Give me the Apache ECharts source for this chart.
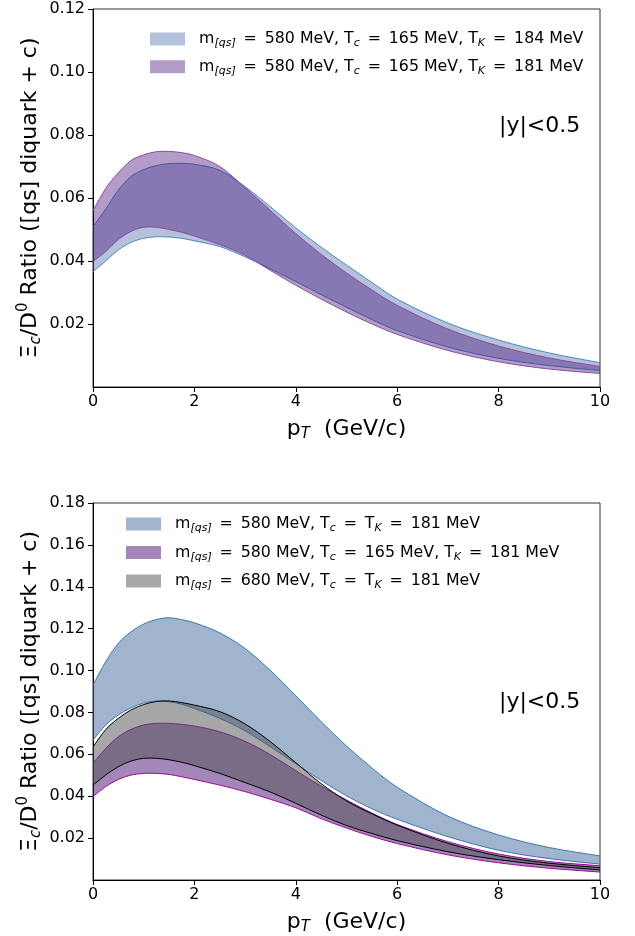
<!DOCTYPE html>
<html>
<head>
<meta charset="utf-8">
<script src="https://cdn.jsdelivr.net/npm/echarts@6/dist/echarts.min.js"></script>
<style>
html, body { margin: 0; padding: 0; background: #fff; }
#main { width: 635px; height: 936px; }
</style>
</head>
<body>
<div id="main"></div>
<script>
// pT grid (GeV/c)
var pT = [0, 0.25, 0.5, 0.75, 1, 1.25, 1.5, 1.75, 2, 2.5, 3, 3.5, 4, 4.5, 5, 5.5, 6, 7, 8, 9, 10];

// top panel: m=580, Tc=165, TK=184
var tk184Upper = [0.0509, 0.0565, 0.0625, 0.0668, 0.0690, 0.0703, 0.0709, 0.0710, 0.0707, 0.0688, 0.0636, 0.0572, 0.0505, 0.0444, 0.0387, 0.0332, 0.0279, 0.0203, 0.0149, 0.0108, 0.0077];
var tk184Lower = [0.0366, 0.0400, 0.0435, 0.0459, 0.0472, 0.0477, 0.0476, 0.0472, 0.0464, 0.0446, 0.0413, 0.0375, 0.0335, 0.0293, 0.0253, 0.0214, 0.0179, 0.0127, 0.0091, 0.0068, 0.0052];
// top panel: m=580, Tc=165, TK=181
var tk181Upper = [0.0560, 0.0630, 0.0680, 0.0719, 0.0737, 0.0747, 0.0748, 0.0744, 0.0735, 0.0700, 0.0633, 0.0560, 0.0487, 0.0421, 0.0362, 0.0308, 0.0259, 0.0184, 0.0130, 0.0092, 0.0065];
var tk181Lower = [0.0398, 0.0430, 0.0468, 0.0494, 0.0507, 0.0507, 0.0500, 0.0491, 0.0479, 0.0452, 0.0418, 0.0370, 0.0323, 0.0279, 0.0238, 0.0200, 0.0167, 0.0116, 0.0080, 0.0057, 0.0043];

// bottom panel: m=580, Tc=TK=181
var eqUpper = [0.0931, 0.1042, 0.1130, 0.1185, 0.1222, 0.1244, 0.1252, 0.1243, 0.1228, 0.1180, 0.1105, 0.1000, 0.0880, 0.0756, 0.0640, 0.0535, 0.0443, 0.0305, 0.0215, 0.0155, 0.0115];
var eqLower = [0.0668, 0.0740, 0.0788, 0.0822, 0.0845, 0.0855, 0.0851, 0.0839, 0.0819, 0.0772, 0.0712, 0.0636, 0.0555, 0.0475, 0.0402, 0.0340, 0.0290, 0.0207, 0.0142, 0.0102, 0.0076];
// bottom panel: m=580, Tc=165, TK=181
var neqUpper = [0.0557, 0.0628, 0.0684, 0.0719, 0.0740, 0.0748, 0.0748, 0.0743, 0.0735, 0.0708, 0.0662, 0.0598, 0.0522, 0.0448, 0.0382, 0.0320, 0.0265, 0.0183, 0.0124, 0.0088, 0.0068];
var neqLower = [0.0398, 0.0446, 0.0480, 0.0501, 0.0509, 0.0509, 0.0504, 0.0493, 0.0480, 0.0453, 0.0422, 0.0385, 0.0345, 0.0293, 0.0248, 0.0208, 0.0174, 0.0120, 0.0082, 0.0056, 0.0038];
// bottom panel: m=680, Tc=TK=181
var m680Upper = [0.0636, 0.0718, 0.0772, 0.0812, 0.0838, 0.0852, 0.0855, 0.0847, 0.0835, 0.0804, 0.0745, 0.0660, 0.0560, 0.0460, 0.0378, 0.0316, 0.0262, 0.0175, 0.0115, 0.0080, 0.0059];
var m680Lower = [0.0453, 0.0501, 0.0541, 0.0568, 0.0581, 0.0581, 0.0574, 0.0562, 0.0546, 0.0509, 0.0465, 0.0420, 0.0366, 0.0310, 0.0260, 0.0222, 0.0188, 0.0135, 0.0097, 0.0069, 0.0048];

var topTicks = [0.02, 0.04, 0.06, 0.08, 0.10, 0.12];
var botTicks = [0.02, 0.04, 0.06, 0.08, 0.10, 0.12, 0.14, 0.16, 0.18];

var topNames = [
    'm{s|[qs]}\u2002=\u2002580 MeV, T{s|c}\u2002=\u2002165 MeV, T{s|K}\u2002=\u2002184 MeV',
    'm{s|[qs]}\u2002=\u2002580 MeV, T{s|c}\u2002=\u2002165 MeV, T{s|K}\u2002=\u2002181 MeV'
];
var botNames = [
    'm{s|[qs]}\u2002=\u2002580 MeV, T{s|c}\u2002=\u2002T{s|K}\u2002=\u2002181 MeV',
    'm{s|[qs]}\u2002=\u2002580 MeV, T{s|c}\u2002=\u2002165 MeV, T{s|K}\u2002=\u2002181 MeV',
    'm{s|[qs]}\u2002=\u2002680 MeV, T{s|c}\u2002=\u2002T{s|K}\u2002=\u2002181 MeV'
];

var FONT = 'DejaVu Sans';
var myChart = echarts.init(document.getElementById('main'));

//平滑路径（像素坐标上的 Hermite 曲线）
function curvePath(pts, moveFirst) {
    var n = pts.length, d = '';
    var m = [];
    for (var i = 0; i < n; i++) {
        var a = pts[Math.max(i - 1, 0)], b = pts[Math.min(i + 1, n - 1)];
        m.push((b[1] - a[1]) / (b[0] - a[0]));
    }
    d += (moveFirst ? 'M' : 'L') + pts[0][0] + ',' + pts[0][1];
    for (var j = 0; j < n - 1; j++) {
        var h = (pts[j + 1][0] - pts[j][0]) / 3;
        d += 'C' + (pts[j][0] + h) + ',' + (pts[j][1] + m[j] * h) + ' ' +
            (pts[j + 1][0] - h) + ',' + (pts[j + 1][1] - m[j + 1] * h) + ' ' +
            pts[j + 1][0] + ',' + pts[j + 1][1];
    }
    return d;
}

//一个带状区域：下边线到上边线之间填充
function band(label, lower, upper, idx, fill, edge) {
    var rows = [];
    for (var i = 0; i < pT.length; i++) rows.push([pT[i], lower[i], upper[i]]);
    return {
        name: label, type: 'custom', xAxisIndex: idx, yAxisIndex: idx,
        data: rows, encode: { x: 0, y: [1, 2] }, silent: true, clip: true,
        itemStyle: { color: fill },
        renderItem: function (params, api) {
            if (params.dataIndex !== 0) return;
            var up = [], lo = [];
            for (var k = 0; k < rows.length; k++) {
                up.push(api.coord([api.value(0, k), api.value(2, k)]));
                lo.push(api.coord([api.value(0, k), api.value(1, k)]));
            }
            var lowPath = curvePath(lo, true);
            // 下边线反向接回去，组成闭合区域
            var back = curvePath(lo.map(function (p) { return [-p[0], p[1]]; }).reverse(), false)
                .replace(/(-?[\d.e]+),(-?[\d.e]+)/g, function (s, x, y) { return (-parseFloat(x)) + ',' + y; });
            var d = curvePath(up, true) + back + 'Z';
            return {
                type: 'group',
                children: [
                    { type: 'path', shape: { pathData: d }, style: { fill: fill, stroke: null } },
                    { type: 'path', shape: { pathData: curvePath(up, true) }, style: { fill: null, stroke: edge, lineWidth: 1 } },
                    { type: 'path', shape: { pathData: lowPath }, style: { fill: null, stroke: edge, lineWidth: 1 } }
                ]
            };
        }
    };
}

function solid(rgba) {
    var p = rgba.match(/[\d.]+/g).map(Number);
    var a = p[3];
    return 'rgb(' + [0, 1, 2].map(function (i) { return Math.round(255 * (1 - a) + p[i] * a); }).join(',') + ')';
}

var richSub = {
    s: { fontSize: 11, fontStyle: 'italic', fontFamily: FONT, verticalAlign: 'bottom', lineHeight: 12, color: '#000' },
    g: { width: 9 }
};
var richName = {
    s: { fontSize: 15, fontStyle: 'italic', fontFamily: FONT, verticalAlign: 'bottom', lineHeight: 16, color: '#000' },
    p: { fontSize: 15, fontFamily: FONT, verticalAlign: 'top', lineHeight: 16, color: '#000' }
};

function xAxisOf(idx) {
    return {
        type: 'value', gridIndex: idx, min: 0, max: 10, interval: 2,
        axisLine: { show: true, onZero: false, lineStyle: { color: '#000', width: 1 } },
        axisTick: { show: true, inside: false, length: 5, lineStyle: { color: '#000' } },
        axisLabel: { fontSize: 16, color: '#000', fontFamily: FONT, margin: 7 },
        splitLine: { show: false },
        name: 'p{s|T}  (GeV/c)', nameLocation: 'middle', nameGap: 29,
        nameTextStyle: { fontSize: 22, color: '#000', fontFamily: FONT, lineHeight: 26, rich: richName }
    };
}
function yAxisOf(idx, maxV, ticks) {
    return {
        type: 'value', gridIndex: idx, min: 0, max: maxV, interval: 0.02,
        axisLine: { show: true, onZero: false, lineStyle: { color: '#000', width: 1 } },
        axisTick: { show: true, length: 5, customValues: ticks, lineStyle: { color: '#000' } },
        axisLabel: {
            fontSize: 16, color: '#000', fontFamily: FONT, margin: 8, customValues: ticks,
            formatter: function (v) { return v.toFixed(2); }
        },
        splitLine: { show: false },
        name: 'Ξ{s|c}/D{p|0} Ratio ([qs] diquark + c)', nameLocation: 'middle', nameGap: 49,
        nameMoveOverlap: false,
        nameTextStyle: { fontSize: 22, color: '#000', fontFamily: FONT, lineHeight: 28, rich: richName }
    };
}
function legendOf(names, colors, left, top, gap) {
    var data = [];
    for (var i = 0; i < names.length; i++) data.push({ name: names[i], itemStyle: { color: solid(colors[i]), borderWidth: 0 } });
    return {
        data: data, orient: 'vertical', left: left, top: top, itemGap: gap, padding: 0,
        icon: 'rect', itemWidth: 35, itemHeight: 13, selectedMode: false,
        formatter: function (name) { return '{g|}' + name; },
        textStyle: { fontSize: 15.8, color: '#000', fontFamily: FONT, lineHeight: 20, rich: richSub }
    };
}

var topBlue = 'rgba(68,102,167,0.4)', topPurple = 'rgba(67,8,117,0.4)';
var botBlue = 'rgba(65,105,157,0.5)', botPurple = 'rgba(73,13,113,0.5)', botGray = 'rgba(80,80,86,0.5)';

var series = [
    band(topNames[0], tk184Lower, tk184Upper, 0, topBlue, '#4a88c4'),
    band(topNames[1], tk181Lower, tk181Upper, 0, topPurple, '#8a4c9c'),
    band(botNames[0], eqLower, eqUpper, 1, botBlue, '#3a78b0'),
    band(botNames[1], neqLower, neqUpper, 1, botPurple, '#9a0a9a'),
    band(botNames[2], m680Lower, m680Upper, 1, botGray, '#000000')
];

var option = {
    animation: false,
    backgroundColor: '#fff',
    grid: [
        { left: 93, top: 9, width: 507, height: 378, show: true, borderColor: '#333', borderWidth: 1, backgroundColor: 'transparent' },
        { left: 93, top: 503, width: 507, height: 377, show: true, borderColor: '#333', borderWidth: 1, backgroundColor: 'transparent' }
    ],
    xAxis: [xAxisOf(0), xAxisOf(1)],
    yAxis: [yAxisOf(0, 0.12, topTicks), yAxisOf(1, 0.18, botTicks)],
    legend: [
        legendOf(topNames, [topBlue, topPurple], 150, 29, 7.7),
        legendOf(botNames, [botBlue, botPurple, botGray], 126, 514, 8.5)
    ],
    graphic: [
        { type: 'text', left: 499, top: 115, style: { text: '|y|<0.5', fontSize: 22, fontFamily: FONT, fill: '#000' } },
        { type: 'text', left: 499, top: 691, style: { text: '|y|<0.5', fontSize: 22, fontFamily: FONT, fill: '#000' } }
    ],
    series: series
};
myChart.setOption(option);
</script>
</body>
</html>
